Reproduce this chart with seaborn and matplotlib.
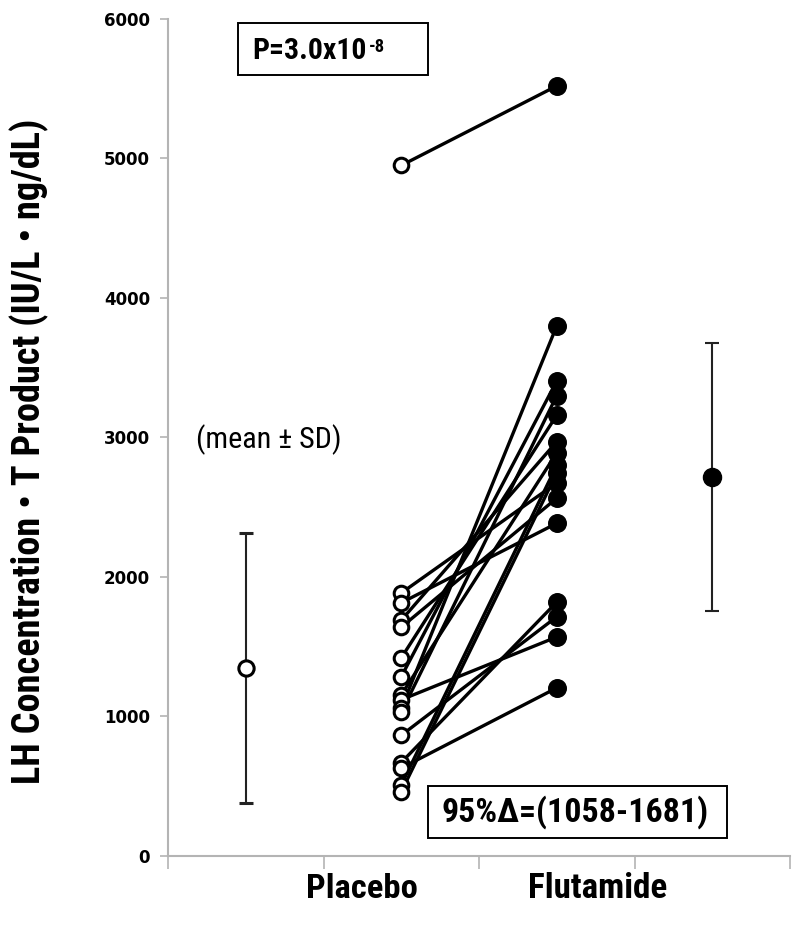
import pandas as pd
import seaborn as sns
import matplotlib.pyplot as plt
from matplotlib import font_manager
from matplotlib.patches import Rectangle

# paired values, one entry per subject
placebo = [4950, 1885, 1815, 1690, 1640, 1420, 1285, 1155,
           1120, 1060, 1030, 865, 670, 630, 510, 460]
flutamide = [5520, 2675, 2385, 2970, 2565, 3160, 3405, 2890,
             1570, 3800, 3300, 1715, 1820, 1205, 2800, 2745]

groups = ["Placebo", "Flutamide"]
group_pos = {"Placebo": 2, "Flutamide": 3}

# summary points (mean +/- SD)
mean_pos = [1, 4]
mean_vals = [1348, 2717]
sd_vals = [967, 960]

p_text = "P=3.0x10"
p_exp = "-8"
ci_text = "95%\u0394=(1058-1681)"
y_label = "LH Concentration \u2022 T Product (IU/L \u2022 ng/dL)"

rows = []
for i, (a, b) in enumerate(zip(placebo, flutamide)):
    rows.append({"subject": i, "group": "Placebo", "value": a})
    rows.append({"subject": i, "group": "Flutamide", "value": b})
df = pd.DataFrame(rows)
df["x"] = df["group"].map(group_pos)

sns.set_theme(style="white")
plt.rcParams.update({"text.color": "black", "axes.labelcolor": "black",
                     "xtick.color": "black", "ytick.color": "black"})

# pick the narrowest Calibri-like family that is installed
installed = {f.name for f in font_manager.fontManager.ttflist}
for cand in ["Liberation Sans Narrow", "Roboto Condensed", "Open Sans Condensed",
             "Noto Sans Condensed", "DejaVu Sans Condensed", "Lato", "Roboto"]:
    if cand in installed:
        body_font = cand
        break
else:
    body_font = "DejaVu Sans"
narrow = [body_font, "DejaVu Sans"]

fig = plt.figure(figsize=(8, 9.39), dpi=100)
ax = fig.add_axes([0.21, 0.0884, 0.7775, 0.8914])
renderer = fig.canvas.get_renderer()


def fit_size(text, width_px, weight="bold", base=20):
    # font size that makes the text span width_px pixels
    t = fig.text(0, 0, text, fontsize=base, fontweight=weight, family=narrow)
    w = t.get_window_extent(renderer).width
    t.remove()
    return base * width_px / w


sns.lineplot(data=df, x="x", y="value", units="subject", estimator=None,
             color="black", linewidth=2.4, ax=ax, legend=False)

sns.scatterplot(data=df[df["group"] == "Placebo"], x="x", y="value",
                marker="o", s=110, facecolor="white", edgecolor="black",
                linewidth=2.2, zorder=3, ax=ax)
sns.scatterplot(data=df[df["group"] == "Flutamide"], x="x", y="value",
                marker="o", s=160, color="black", edgecolor="black",
                zorder=3, ax=ax)

# mean +/- SD markers
ax.errorbar(mean_pos[0], mean_vals[0], yerr=sd_vals[0], fmt="o", ms=11,
            mfc="white", mec="black", mew=2.2, ecolor="#222222",
            elinewidth=1.5, capsize=5, capthick=1.5, zorder=3)
ax.errorbar(mean_pos[1], mean_vals[1], yerr=sd_vals[1], fmt="o", ms=13,
            mfc="black", mec="black", ecolor="#222222",
            elinewidth=1.5, capsize=5, capthick=1.5, zorder=3)

ax.set_xlim(0.5, 4.5)
ax.set_ylim(0, 6000)
ax.set_yticks(range(0, 6001, 1000))
ax.set_xticks([0.5, 1.5, 2.5, 3.5, 4.5])
ax.set_xticklabels([])
ax.set_xlabel("")

for side in ["top", "right"]:
    ax.spines[side].set_visible(False)
for side in ["left", "bottom"]:
    ax.spines[side].set_color("#b4b4b4")
    ax.spines[side].set_linewidth(1.5)

ax.tick_params(axis="y", left=True, length=6, width=1.2, color="#b4b4b4",
               pad=7, labelsize=12, labelcolor="black")
ax.tick_params(axis="x", bottom=True, length=9, width=1.2, color="#b4b4b4")
for lab in ax.get_yticklabels():
    lab.set_fontweight("bold")

ax.set_ylabel(y_label, fontsize=fit_size(y_label, 665), fontweight="bold",
              family=narrow)
ax.yaxis.set_label_coords(-0.192, 0.483)

# group names below the axis
ax.text(1.748, -235, groups[0], ha="center", va="center",
        fontsize=fit_size(groups[0], 111), fontweight="bold", family=narrow,
        clip_on=False)
ax.text(3.265, -235, groups[1], ha="center", va="center",
        fontsize=fit_size(groups[1], 139), fontweight="bold", family=narrow,
        clip_on=False)

ax.text(1.15, 2982, "(mean \u00b1 SD)", ha="center", va="center",
        fontsize=fit_size("(mean \u00b1 SD)", 146, weight="normal"),
        family=narrow)

# annotation boxes
ax.add_patch(Rectangle((0.1125, 0.933), 0.3055, 0.062, transform=ax.transAxes,
                       fill=False, edgecolor="black", linewidth=1.4,
                       clip_on=False))
p_size = fit_size(p_text, 114)
pt = ax.text(0.135, 0.962, p_text, transform=ax.transAxes, ha="left",
             va="center", fontsize=p_size, fontweight="bold", family=narrow)
ax.annotate(p_exp, xy=(1.02, 0.95), xycoords=pt, ha="left", va="top",
            fontsize=p_size * 0.62, fontweight="bold", family=narrow)

ax.add_patch(Rectangle((0.418, 0.0215), 0.481, 0.062, transform=ax.transAxes,
                       fill=False, edgecolor="black", linewidth=1.4,
                       clip_on=False))
ax.text(0.439, 0.0526, ci_text, transform=ax.transAxes, ha="left",
        va="center", fontsize=fit_size(ci_text, 267), fontweight="bold",
        family=narrow)

fig.savefig("out.png", dpi=100)
